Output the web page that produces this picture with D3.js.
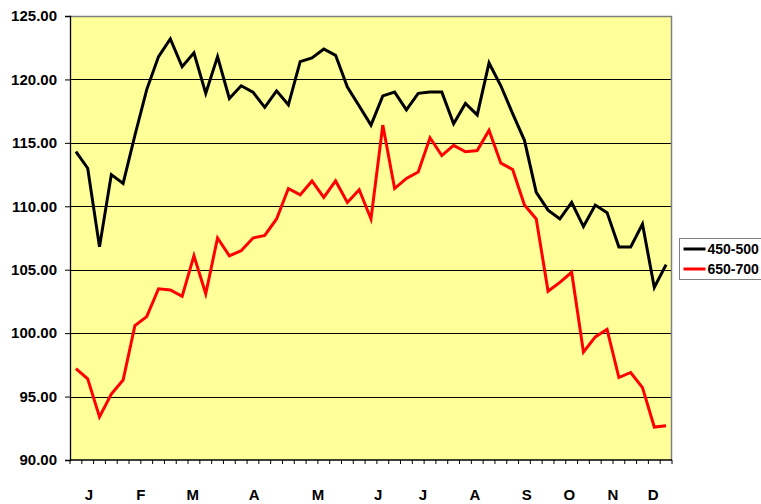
<!DOCTYPE html>
<html>
<head>
<meta charset="utf-8">
<script src="https://cdn.jsdelivr.net/npm/d3@7"></script>
<style>
	body{margin:0;background:#fff;}
	text{font-family:"Liberation Sans",Arial,sans-serif;font-weight:bold;fill:#000;}
</style>
</head>
<body>
<div id="grafico"></div>
<script>
// datos semanales (51 semanas)
var serie450 = [114.3, 113.0, 106.8, 112.5, 111.8, 115.6, 119.2, 121.8, 123.2, 121.0,
	122.1, 118.9, 121.8, 118.5, 119.5, 119.0, 117.8, 119.1, 118.0, 121.4,
	121.7, 122.4, 121.9, 119.4, 117.9, 116.4, 118.7, 119.0, 117.6, 118.9,
	119.0, 119.0, 116.5, 118.1, 117.2, 121.3, 119.5, 117.3, 115.2, 111.1,
	109.7, 109.0, 110.3, 108.4, 110.1, 109.5, 106.8, 106.8, 108.6, 103.6, 105.4]
var serie650 = [97.2, 96.4, 93.4, 95.2, 96.3, 100.6, 101.3, 103.5, 103.4, 102.9,
	106.1, 103.1, 107.5, 106.1, 106.5, 107.5, 107.7, 109.0, 111.4, 110.9,
	112.0, 110.7, 112.0, 110.3, 111.3, 109.0, 116.4, 111.4, 112.2, 112.7,
	115.4, 114.0, 114.8, 114.3, 114.4, 116.0, 113.4, 112.9, 110.1, 109.0,
	103.3, 104.0, 104.8, 98.5, 99.7, 100.3, 96.5, 96.9, 95.7, 92.6, 92.7]
var series = ["450-500", "650-700"]
var colores = ["#000000", "#ff0000"]
var meses = ["J", "F", "M", "A", "M", "J", "J", "A", "S", "O", "N", "D"]
// semana bajo la que cae cada letra
var semanaMes = [1.1, 5.5, 9.9, 15.1, 20.5, 25.6, 29.4, 33.8, 38.2, 41.8, 45.5, 48.9]
var ticksY = [90, 95, 100, 105, 110, 115, 120, 125]

var margin = {top: 16, right: 89, bottom: 44, left: 70},
	width = 761 - margin.left - margin.right,
	height = 504 - margin.top - margin.bottom;

var svg = d3.select("#grafico")
	.append("svg")
	.attr("width", 761)
	.attr("height", 504)

var g = svg.append("g")
	.attr("transform", "translate(" + margin.left + "," + margin.top + ")")

// fondo amarillo
g.append("rect")
	.attr("width", width)
	.attr("height", height)
	.attr("fill", "#ffff99")

var semanas = d3.range(serie450.length)
var x = d3.scaleBand()
	.domain(semanas)
	.range([0, width])
var xc = d3.scaleLinear()
	.domain([-0.5, semanas.length - 0.5])
	.range([0, width])
var y = d3.scaleLinear()
	.domain([90, 125])
	.range([height, 0])

// lineas de rejilla
g.selectAll(".rejilla")
	.data(ticksY.slice(1, -1))
	.enter()
	.append("line")
	.attr("x1", 0)
	.attr("x2", width)
	.attr("y1", d => Math.round(y(d)) + 0.5)
	.attr("y2", d => Math.round(y(d)) + 0.5)
	.attr("stroke", "#000")
	.attr("stroke-width", 1)

// borde superior y derecho
g.append("path")
	.attr("d", "M0,0.5H" + (width - 0.5) + "V" + height)
	.attr("fill", "none")
	.attr("stroke", "#808080")
	.attr("stroke-width", 1.5)

// eje Y
var ejeY = g.append("g")
	.call(d3.axisLeft(y).tickValues(ticksY).tickFormat(d3.format(".2f")).tickSize(5).tickPadding(8))
ejeY.select(".domain").attr("stroke", "#000").attr("stroke-width", 1.3)
ejeY.selectAll("text").style("font-size", "15px")

// eje X: marcas entre semanas
var ejeX = g.append("g")
	.attr("transform", "translate(0," + height + ")")
ejeX.append("line")
	.attr("x1", 0)
	.attr("x2", width)
	.attr("stroke", "#000")
	.attr("stroke-width", 1.3)
ejeX.selectAll(".marca")
	.data(d3.range(semanas.length + 1))
	.enter()
	.append("line")
	.attr("x1", d => d < semanas.length ? x(d) : width)
	.attr("x2", d => d < semanas.length ? x(d) : width)
	.attr("y1", 0)
	.attr("y2", 4)
	.attr("stroke", "#000")
ejeX.selectAll(".mes")
	.data(meses)
	.enter()
	.append("text")
	.attr("x", (d, i) => xc(semanaMes[i]))
	.attr("y", 40)
	.attr("text-anchor", "middle")
	.style("font-size", "15px")
	.text(d => d)

// lineas de datos
var linea = d3.line()
	.x((d, i) => x(i) + x.bandwidth() / 2)
	.y(d => y(d))

var datos = [serie450, serie650]
g.selectAll(".serie")
	.data(datos)
	.enter()
	.append("path")
	.attr("d", d => linea(d))
	.attr("fill", "none")
	.attr("stroke", (d, i) => colores[i])
	.attr("stroke-width", 3)

// leyenda
var leyenda = svg.append("g")
	.attr("transform", "translate(679.5,238.5)")
leyenda.append("rect")
	.attr("width", 84)
	.attr("height", 41)
	.attr("fill", "#fff")
	.attr("stroke", "#808080")
series.forEach(function(s, i){
	leyenda.append("line")
		.attr("x1", 4)
		.attr("x2", 26)
		.attr("y1", 10.5 + i * 20)
		.attr("y2", 10.5 + i * 20)
		.attr("stroke", colores[i])
		.attr("stroke-width", 3)
	leyenda.append("text")
		.attr("x", 28)
		.attr("y", 10.5 + i * 20)
		.attr("dy", "0.35em")
		.style("font-size", "14px")
		.text(s)
})
</script>
</body>
</html>
